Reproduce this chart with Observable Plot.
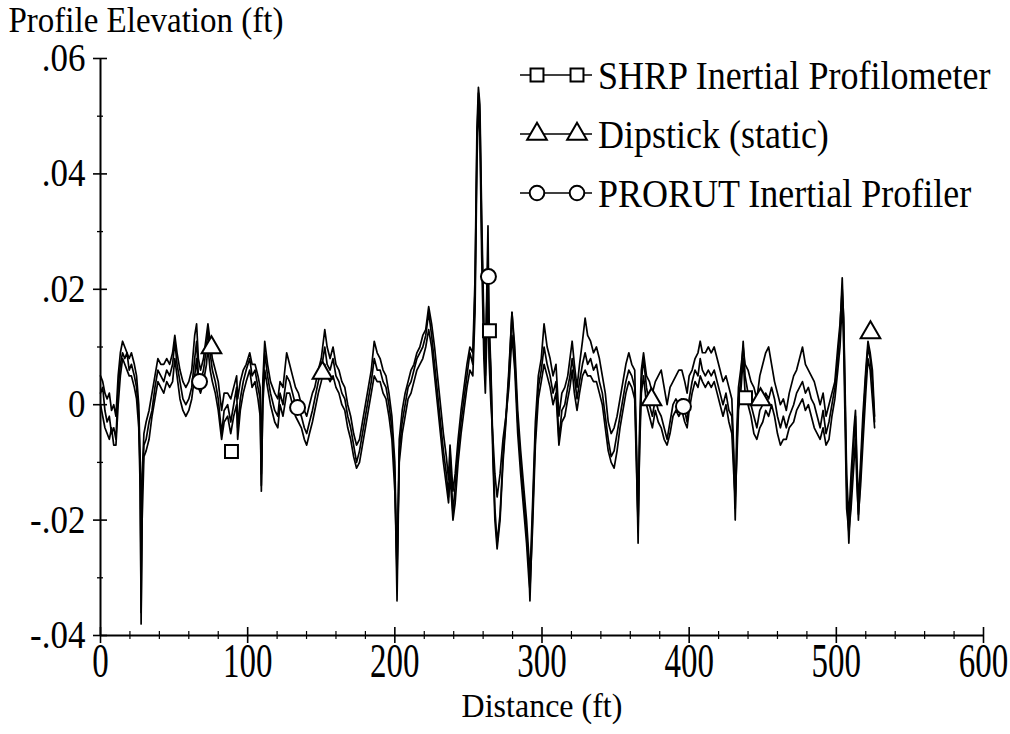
<!DOCTYPE html>
<html>
<head>
<meta charset="utf-8">
<script src="https://cdn.jsdelivr.net/npm/d3@7"></script>
<script src="https://cdn.jsdelivr.net/npm/@observablehq/plot@0.6"></script>
<style>
  body { margin: 0; background: white; }
  #chart { position: relative; width: 1010px; height: 734px; }
  #legend { position: absolute; left: 0; top: 0; pointer-events: none; }
</style>
</head>
<body>
<div id="chart"></div>
<script>
// ---- data ----
const distance = [
  0, 1.5, 3, 4.5, 6, 7.5, 9, 10.5, 12, 13.5,
  15, 16.5, 18, 19.5, 21, 23, 24.5, 26, 27, 27.6,
  28.3, 29.5, 31, 33, 35, 37, 39, 41, 43, 45,
  47, 49, 50.5, 52, 54, 56, 58, 60, 62, 64,
  65.3, 66.5, 68, 70, 72, 73, 74.5, 76, 78, 80,
  82.3, 84, 86.4, 88.5, 90.5, 92.5, 93.2, 95, 97, 99,
  101.4, 103, 105, 107, 108.5, 109.3, 110.3, 111.6, 113.5, 115.5,
  118.4, 120.5, 122, 124, 126.5, 128.5, 130.5, 132.5, 134.5, 136.5,
  138.5, 140.1, 142, 144, 145.6, 148, 150, 152.4, 154, 156,
  158, 160, 162, 164, 166, 168, 170, 172, 174, 176,
  178, 180, 182, 184, 186, 188, 190, 192, 194, 196,
  198, 200, 201.5, 203, 205, 207, 209, 211, 213, 215,
  217, 219, 221, 223, 225, 227, 229, 231, 233, 235,
  236.5, 237.5, 239.5, 241, 243, 245, 247, 249, 251, 253,
  254.5, 255.8, 256.8, 257.8, 259, 260.5, 261.5, 262.5, 263.3, 264,
  265.3, 266.7, 268, 269.5, 271.5, 273.5, 275.5, 277.5, 279.6, 281.5,
  283.5, 285.5, 287.5, 289.5, 291, 291.8, 293.5, 295.5, 297.5, 299.5,
  301.4, 303.5, 305.5, 307.5, 309.5, 311.5, 313.5, 315.5, 317.5, 319,
  320.5, 322, 323.8, 325.5, 327.5, 329.3, 331, 333, 335, 337,
  339, 341, 343, 345, 347, 349, 351, 353, 355, 357,
  359, 361, 363, 364.3, 365.3, 366.3, 367.5, 369, 371, 373,
  375, 377, 379, 381, 383, 385, 387, 389, 391, 393,
  395, 397, 398.6, 400, 402, 404, 406, 407.5, 409, 411,
  413, 415, 417, 419, 421, 423, 425, 427, 429, 430.3,
  431.3, 432.3, 433.5, 435, 436.7, 438, 440, 442, 444, 446,
  448, 450, 452, 454, 456, 458, 460, 462, 464, 466,
  468, 471, 473, 475, 477, 479, 481, 483, 485, 487,
  489, 491, 493, 495, 497, 499, 501, 502.5, 504, 505,
  506, 507, 508.5, 510, 512, 513, 514, 515, 516.5, 518,
  520, 521.5, 523, 524.5, 526
];

const shrpElevation = [
  .002, .003, -.001, -.003, -.002, -.005, -.004, -.006, .003, .007,
  .009, .008, .009, .006, .007, .005, .003, -.002, -.012, -.038,
  -.015, -.007, -.006, -.003, -.001, .003, .006, .005, .004, .006,
  .005, .007, .011, .007, .004, .001, .000, .001, .003, .008,
  .011, .005, .004, .006, .010, .013, .009, .006, .004, .001,
  -.005, -.001, .000, -.003, .000, .003, -.004, .001, .004, .006,
  .008, .005, .006, .003, .001, -.015, .002, .009, .005, .002,
  -.001, -.002, .002, .000, .005, .004, .002, .000, -.001, -.002,
  -.004, -.005, -.003, -.001, .001, .004, .006, .010, .007, .006,
  .008, .005, .004, .002, .001, -.002, -.004, -.007, -.010, -.008,
  -.005, -.002, .001, .004, .008, .006, .006, .004, .003, .000,
  -.004, -.012, -.034, -.008, -.003, .000, .003, .004, .006, .008,
  .009, .010, .012, .016, .012, .007, .002, -.003, -.008, -.012,
  -.016, -.008, -.019, -.014, -.008, -.003, .001, .005, .009, .007,
  .020, .045, .054, .050, .030, .012, .005, .020, .031, .013,
  .005, -.010, -.020, -.025, -.020, -.010, -.003, .005, .016, .008,
  -.003, -.010, -.016, -.022, -.028, -.034, -.020, -.005, .003, .006,
  .010, .007, .005, .002, .004, -.006, -.001, .000, .003, .005,
  .008, .005, .001, .004, .007, .009, .007, .008, .006, .007,
  .004, .002, -.002, -.006, -.009, -.008, -.005, -.002, .001, .004,
  .006, .005, .003, -.010, -.024, -.006, .004, .008, .003, .000,
  -.002, .001, -.001, -.002, -.004, -.006, -.003, .000, .001, .000,
  .001, -.001, -.003, .001, .004, .006, .005, .008, .006, .005,
  .006, .005, .006, .004, .002, .000, .002, -.001, -.002, -.010,
  -.020, -.008, .001, .004, .011, .005, .002, .000, -.002, -.004,
  -.001, .000, .002, .001, .003, .001, -.002, -.004, -.002, -.004,
  -.002, .000, .002, .003, .004, .002, .003, .001, .000, -.002,
  -.004, -.001, -.005, -.003, .000, .003, .008, .013, .022, .014,
  .000, -.014, -.024, -.015, -.006, -.002, -.012, -.020, -.012, -.004,
  .005, .010, .008, .004, -.003
];

const dipstickElevation = [
  .005, .004, .002, .001, .002, -.001, .000, -.002, .005, .009,
  .011, .010, .009, .008, .009, .007, .005, .000, -.010, -.030,
  -.012, -.005, -.003, -.001, .002, .005, .008, .007, .007, .008,
  .007, .009, .012, .009, .006, .004, .003, .004, .006, .012,
  .014, .008, .006, .008, .012, .014, .011, .008, .006, .004,
  -.001, .002, .002, .001, .003, .005, .001, .004, .006, .007,
  .009, .007, .007, .005, .003, -.012, .004, .011, .007, .004,
  .002, .001, .004, .003, .009, .007, .005, .003, .002, .000,
  -.001, -.002, .000, .002, .003, .006, .008, .013, .010, .008,
  .010, .007, .006, .004, .003, .000, -.002, -.005, -.007, -.006,
  -.003, .000, .003, .006, .011, .009, .008, .006, .005, .002,
  -.002, -.010, -.030, -.006, -.001, .002, .004, .006, .007, .009,
  .010, .012, .013, .017, .014, .010, .005, .000, -.005, -.009,
  -.013, -.007, -.015, -.012, -.006, -.001, .003, .007, .010, .009,
  .022, .048, .055, .052, .033, .014, .008, .018, .025, .015,
  .006, -.008, -.018, -.024, -.019, -.009, -.002, .006, .016, .010,
  -.001, -.008, -.014, -.020, -.026, -.030, -.018, -.003, .005, .008,
  .014, .010, .008, .005, .007, -.002, .002, .003, .005, .008,
  .011, .007, .003, .007, .011, .015, .012, .011, .009, .010,
  .008, .005, .002, -.003, -.005, -.004, -.002, .001, .004, .007,
  .009, .007, .006, -.008, -.022, -.004, .006, .009, .005, .004,
  .002, .004, .005, .006, .003, .000, .003, .004, .005, .006,
  .006, .004, .002, .005, .006, .008, .009, .011, .009, .009,
  .010, .009, .010, .008, .006, .004, .005, .003, .001, -.008,
  -.018, -.005, .003, .006, .010, .007, .006, .004, .003, .001,
  .005, .007, .009, .010, .007, .004, .002, .000, .001, -.001,
  .002, .005, .006, .008, .010, .007, .006, .005, .004, .002,
  .000, .002, -.002, .000, .002, .004, .010, .014, .020, .015,
  .002, -.012, -.020, -.012, -.004, -.001, -.010, -.017, -.010, -.002,
  .006, .011, .009, .006, -.002
];

const prorutElevation = [
  .000, -.002, -.004, -.005, -.006, -.004, -.007, -.007, .000, .005,
  .008, .007, .006, .005, .005, .003, .001, -.004, -.015, -.036,
  -.020, -.009, -.008, -.006, -.002, .001, .004, .003, .002, .004,
  .003, .004, .008, .005, .001, -.001, -.002, -.001, .001, .005,
  .008, .003, .002, .004, .007, .010, .006, .004, .002, -.001,
  -.006, -.003, -.002, -.005, -.002, .000, -.006, -.001, .002, .004,
  .006, .003, .004, .001, -.002, -.014, .000, .006, .003, .000,
  -.003, -.004, .000, -.002, .002, .002, .000, -.002, -.003, -.004,
  -.006, -.007, -.005, -.003, -.001, .002, .004, .007, .005, .004,
  .005, .003, .002, .000, -.001, -.004, -.006, -.009, -.011, -.010,
  -.007, -.004, -.001, .002, .005, .004, .004, .002, .001, -.002,
  -.006, -.015, -.028, -.010, -.005, -.002, .001, .002, .004, .006,
  .007, .008, .010, .013, .010, .005, .000, -.005, -.010, -.014,
  -.017, -.012, -.020, -.017, -.010, -.005, -.001, .003, .006, .005,
  .016, .042, .052, .047, .026, .008, .002, .012, .020, .008,
  .000, -.006, -.012, -.016, -.012, -.006, -.002, .003, .012, .006,
  -.005, -.012, -.018, -.024, -.030, -.032, -.022, -.007, .001, .004,
  .007, .005, .003, .000, .002, -.007, -.003, -.002, .001, .003,
  .006, .002, -.001, .002, .005, .006, .005, .005, .004, .004,
  .002, .000, -.004, -.008, -.010, -.011, -.008, -.004, -.001, .002,
  .004, .003, .001, -.012, -.020, -.008, .002, .005, .000, -.002,
  -.004, -.001, -.003, -.004, -.006, -.007, -.005, -.002, -.001, -.002,
  -.001, -.003, -.004, -.001, .002, .004, .003, .005, .004, .003,
  .004, .003, .004, .002, .000, -.002, .000, -.003, -.005, -.012,
  -.016, -.010, -.001, .002, .008, .002, .000, -.002, -.005, -.006,
  -.004, -.003, -.001, -.002, .000, -.002, -.005, -.007, -.006, -.006,
  -.004, -.003, -.001, .000, .001, -.001, .000, -.002, -.004, -.005,
  -.006, -.004, -.007, -.006, -.002, .001, .006, .010, .018, .010,
  -.004, -.018, -.022, -.018, -.010, -.006, -.014, -.019, -.014, -.007,
  .002, .008, .006, .001, -.004
];

// marker symbols placed along each profile
const shrpMarkerDistance = [89, 264.3, 438.3];
const shrpMarkerElevation = [-.0081, .0128, .0012];
const dipstickMarkerDistance = [75.4, 150.8, 374.4, 448.5, 523.2];
const dipstickMarkerElevation = [.0099, .0055, .0009, .0009, .0125];
const prorutMarkerDistance = [67.3, 133.9, 263.6, 396.1];
const prorutMarkerElevation = [.0040, -.0005, .0222, -.0003];

const seriesNames = ["SHRP Inertial Profilometer", "Dipstick (static)", "PRORUT Inertial Profiler"];
const seriesSymbols = ["square", "triangle", "circle"];

const xTicks = [0, 100, 200, 300, 400, 500, 600];
const xMinorTicks = [20, 40, 60, 80, 120, 140, 160, 180, 220, 240, 260, 280, 320, 340, 360, 380, 420, 440, 460, 480, 520, 540, 560, 580];
const yTicks = [-0.04, -0.02, 0, 0.02, 0.04, 0.06];
const yTickLabels = ["-.04", "-.02", "0", ".02", ".04", ".06"];
const yMinorTicks = [-0.03, -0.01, 0.01, 0.03, 0.05];

const yTitle = "Profile Elevation (ft)";
const xTitle = "Distance (ft)";

// ---- build tables ----
const seriesValues = [shrpElevation, dipstickElevation, prorutElevation];
const profileRows = seriesValues.flatMap((vals, s) =>
  distance.map((d, i) => ({series: seriesNames[s], d, v: vals[i]})));
const markerSets = [
  [shrpMarkerDistance, shrpMarkerElevation],
  [dipstickMarkerDistance, dipstickMarkerElevation],
  [prorutMarkerDistance, prorutMarkerElevation]
].map(([xs, ys]) => xs.map((d, i) => ({d, v: ys[i]})));

const font = "'Liberation Serif', 'Times New Roman', Times, serif";

const chart = Plot.plot({
  width: 1010,
  height: 734,
  marginLeft: 100,
  marginRight: 27,
  marginTop: 58,
  marginBottom: 99,
  x: {domain: [0, 600], label: null},
  y: {domain: [-0.04, 0.06], label: null},
  style: {fontFamily: font, color: "black", background: "white", overflow: "visible"},
  marks: [
    Plot.line(profileRows, {x: "d", y: "v", z: "series", stroke: "black", strokeWidth: 1.7}),
    ...markerSets.map((rows, s) =>
      Plot.dot(rows, {x: "d", y: "v", symbol: seriesSymbols[s], r: seriesSymbols[s] === "circle" ? 7.5 : 7.3,
        fill: "white", stroke: "black", strokeWidth: 2})),
    // axis lines
    Plot.ruleX([0], {stroke: "black", strokeWidth: 2}),
    Plot.ruleY([-0.04], {stroke: "black", strokeWidth: 2}),
    // crossing tick marks
    Plot.ruleY(yTicks, {y: d => d, x1: 0, x2: 0, insetLeft: -7, insetRight: -7, stroke: "black", strokeWidth: 1.6}),
    Plot.ruleY(yMinorTicks, {y: d => d, x1: 0, x2: 0, insetLeft: -3, insetRight: -3, stroke: "black", strokeWidth: 1.3}),
    Plot.ruleX(xTicks, {x: d => d, y1: -0.04, y2: -0.04, insetTop: -8, insetBottom: -8, stroke: "black", strokeWidth: 1.6}),
    Plot.ruleX(xMinorTicks, {x: d => d, y1: -0.04, y2: -0.04, insetTop: -4, insetBottom: -4, stroke: "black", strokeWidth: 1.2}),
    // tick labels
    Plot.axisY(yTicks, {tickSize: 0, tickPadding: 15, fontSize: 35, label: null,
      tickFormat: d => yTickLabels[yTicks.indexOf(d)]}),
    Plot.axisX(xTicks, {tickSize: 0, tickPadding: 13, fontSize: 33, label: null,
      tickFormat: d => String(d)}),
    // titles
    Plot.text([yTitle], {text: d => d, frameAnchor: "top-left", dx: -92, dy: -38,
      textAnchor: "start", lineAnchor: "middle", fontSize: 33}),
    Plot.text([xTitle], {text: d => d, frameAnchor: "bottom", dy: 71,
      textAnchor: "middle", lineAnchor: "middle", fontSize: 32})
  ]
});
const host = document.getElementById("chart");
host.appendChild(chart);

// ---- legend overlay ----
const legendRowY = [75, 134, 193];
const legend = d3.select(host).append("svg")
  .attr("id", "legend").attr("width", 1010).attr("height", 734);
seriesNames.forEach((name, i) => {
  const y = legendRowY[i];
  legend.append("line").attr("x1", 520).attr("x2", 592).attr("y1", y).attr("y2", y)
    .attr("stroke", "black").attr("stroke-width", 1.3);
  const sym = {square: d3.symbolSquare, triangle: d3.symbolTriangle, circle: d3.symbolCircle}[seriesSymbols[i]];
  const r = 7.3;
  [537, 577].forEach(x => {
    legend.append("path").attr("d", d3.symbol(sym, Math.PI * r * r)())
      .attr("transform", `translate(${x},${y})`)
      .attr("fill", "white").attr("stroke", "black").attr("stroke-width", 2);
  });
  legend.append("text").attr("x", 598).attr("y", y).attr("dy", "0.35em")
    .attr("font-family", font).attr("font-size", 36).attr("fill", "black")
    .text(name);
});

// ---- the scanned original has slightly tall, narrow lettering: stretch text vertically ----
function stretchText(nodes, k) {
  nodes.forEach(node => {
    const b = node.getBBox();
    const cx = b.x + b.width / 2, cy = b.y + b.height / 2;
    const t = node.getAttribute("transform") || "";
    node.setAttribute("transform", `${t} translate(${cx},${cy}) scale(1,${k}) translate(${-cx},${-cy})`);
  });
}
stretchText([...chart.querySelectorAll('g[aria-label="x-axis tick label"] text')], 1.45);
stretchText([...chart.querySelectorAll('g[aria-label="y-axis tick label"] text')], 1.12);
stretchText([...chart.querySelectorAll('g[aria-label="text"] text')], 1.06);
stretchText([...host.querySelectorAll('#legend text')], 1.1);
</script>
</body>
</html>
